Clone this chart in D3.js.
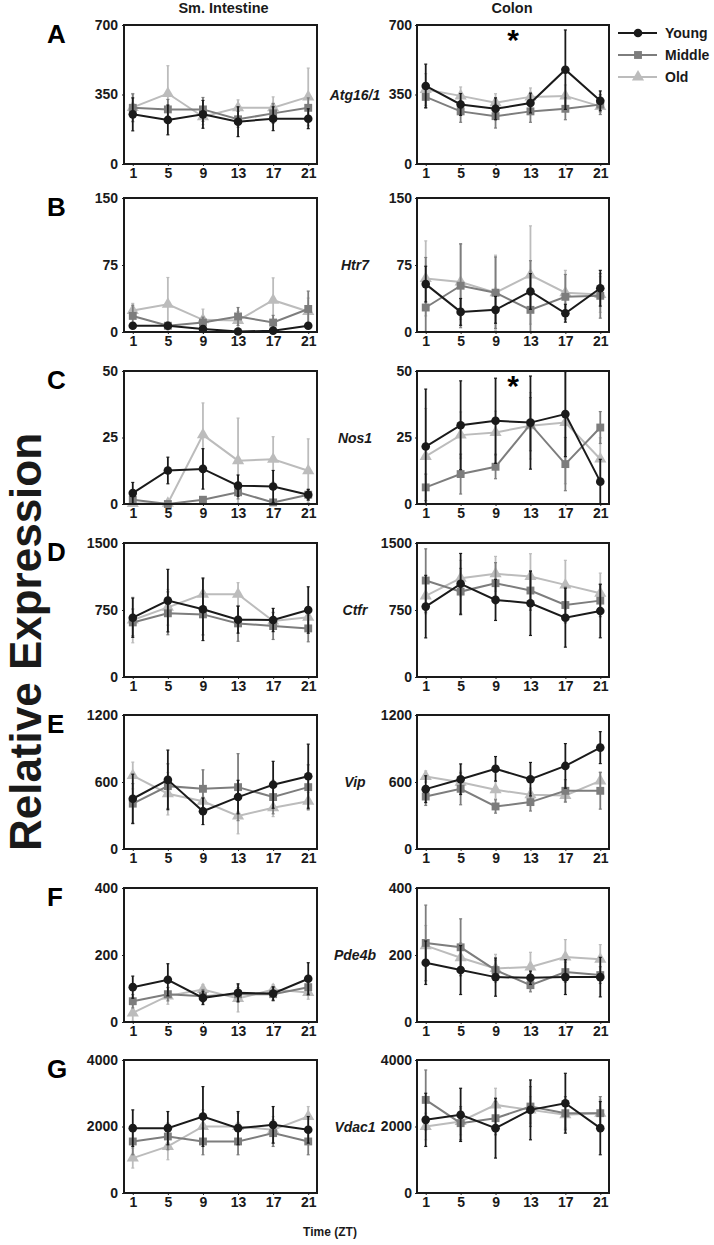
<!DOCTYPE html>
<html><head><meta charset="utf-8">
<script src="https://cdn.jsdelivr.net/npm/d3@7"></script>
<style>body{margin:0;background:#fff}svg{display:block}text{font-family:"Liberation Sans",Arial,sans-serif;font-weight:bold}</style>
</head><body>
<svg id="c" width="714" height="1245"></svg>
<script>
const timepoints = [1,5,9,13,17,21];
const panelLetters = ["A","B","C","D","E","F","G"];
const genes = ["Atg16/1","Htr7","Nos1","Ctfr","Vip","Pde4b","Vdac1"];
const yMax = [700,150,50,1500,1200,400,4000];
const yTickLabels = [[0,350,700],[0,75,150],[0,25,50],[0,750,1500],[0,600,1200],[0,200,400],[0,2000,4000]];
const tissues = ["Sm. Intestine","Colon"];
const groups = ["Young","Middle","Old"];
const colors = ["#1a1a1a","#7d7d7d","#bcbcbc"];
const starred = [["Colon","Atg16/1"],["Colon","Nos1"]];

// Small intestine
const siYoung = [[250,222,250,213,228,228],[7,7,3.4,0.5,1.5,7],[4.1,12.6,13.2,6.9,6.6,3.5],[664,855,758,641,638,750],[450,619,338,465,575,652],[104,126,72,87,85,129],[1950,1950,2300,1950,2050,1900]];
const siYoungErr = [[83,75,70,75,60,50],[3,3,3,2,2,3],[4,5,7.6,4,6,2],[220,350,350,150,130,260],[220,267,119,150,210,287],[33,48,20,27,20,48],[550,500,900,500,550,400]];
const siMiddle = [[283,275,275,225,255,283],[18,7,10.6,17.4,10.6,25.8],[1.6,0,1.6,4.4,0.6,3.5],[611,713,701,600,570,544],[406,563,539,554,465,554],[62,83,77,83,83,104],[1550,1700,1550,1550,1800,1550]];
const siMiddleErr = [[70,50,60,40,50,50],[12,4,6,10,8,20],[2,0.5,1,2.5,1,2],[150,240,230,200,150,150],[180,200,170,300,150,200],[20,20,20,20,20,20],[400,400,400,400,400,400]];
const siOld = [[285,355,238,283,283,338],[24,31,13.6,13,35.6,23],[0.2,0.3,26,16.3,16.8,12.5],[638,780,926,926,626,668],[658,495,427,296,370,427],[27,78,97,70,97,88],[1050,1400,2000,2000,1900,2300]];
const siOldErr = [[70,140,40,40,55,145],[8,30,12,10,25,15],[0.5,0.5,12,16,8.5,12],[255,200,170,130,100,100],[120,190,100,160,80,80],[25,25,15,40,15,20],[300,400,500,400,400,300]];
// Colon
const coYoung = [[393,300,278,307,475,318],[53.6,22.5,24.8,45.4,21,49],[21.6,29.6,31.3,30.6,33.8,8.4],[788,1043,863,825,664,739],[536,625,718,625,744,908],[177,155,134,132,134,134],[2200,2350,1950,2500,2700,1950]];
const coYoungErr = [[110,55,55,50,200,50],[20,15,15,20,10,20],[21.6,16.7,16,17.5,16,8.4],[350,340,230,360,330,300],[120,137,110,150,200,143],[65,73,57,20,52,59],[800,800,900,900,900,800]];
const coMiddle = [[338,265,241,265,278,299],[27.4,51.8,44,24.8,39.4,40.5],[6.25,11.25,14,30,15,28.75],[1080,956,1050,968,806,855],[470,539,381,420,521,521],[236,223,155,110,149,140],[2800,2100,2250,2600,2400,2400]];
const coMiddleErr = [[55,55,60,55,55,50],[56,47,40,55,25,25],[5,7.5,4.5,10,10,6],[355,260,230,220,200,180],[80,143,60,80,100,164],[113,85,30,20,30,25],[900,500,500,600,500,500]];
const coOld = [[375,343,309,338,343,290],[60,56,44,63.8,44,42],[17.9,25.9,26.9,29.4,30.6,16.9],[908,1106,1155,1125,1031,938],[649,598,530,485,479,610],[228,192,160,164,194,187],[2000,2150,2650,2500,2350,2400]];
const coOldErr = [[80,45,45,45,55,30],[42,42,42,55,25,20],[18,8.7,8,12.5,23,8],[200,200,195,255,275,225],[50,100,80,60,60,80],[60,45,42,44,52,44],[400,400,500,400,400,400]];

const seriesByTissue = [
  [[siYoung,siYoungErr],[siMiddle,siMiddleErr],[siOld,siOldErr]],
  [[coYoung,coYoungErr],[coMiddle,coMiddleErr],[coOld,coOldErr]]
];

const svg = d3.select("#c");
const rowTop = [25,198,371,543,715,888,1060];
const rowBot = [164,332,504,677,849,1022,1193];
const colX = [[124,317],[417,609]];

const sym = [d3.symbolCircle, d3.symbolSquare, d3.symbolTriangle];
const symSize = [58, 62, 64];

// column titles
tissues.forEach((t,c)=>{
  svg.append("text").attr("x",(colX[c][0]+colX[c][1])/2 + (c===0?3:-1)).attr("y",13)
    .attr("text-anchor","middle").attr("font-size",14.5).attr("fill","#1a1a1a").text(t);
});

genes.forEach((g,r)=>{
  svg.append("text").attr("x",47).attr("y",rowTop[r]+18).attr("font-size",26).attr("fill","#000").text(panelLetters[r]);
  svg.append("text").attr("x",355).attr("y",(rowTop[r]+rowBot[r])/2+5).attr("text-anchor","middle")
    .attr("font-size",14).attr("font-style","italic").attr("fill","#1a1a1a").text(g);

  [0,1].forEach(c=>{
    const x = d3.scaleLinear().domain([0,22]).range(colX[c]);
    const y = d3.scaleLinear().domain([0,yMax[r]]).range([rowBot[r],rowTop[r]]);
    const gp = svg.append("g");
    const ya = gp.append("g").attr("transform",`translate(${colX[c][0]},0)`)
      .call(d3.axisLeft(y).tickValues(yTickLabels[r]).tickSize(2).tickPadding(c===0?4:3).tickFormat(d3.format("d")));
    ya.select(".domain").remove();
    ya.selectAll("text").attr("font-size",14).attr("fill","#1a1a1a").attr("font-family","Liberation Sans, Arial").attr("font-weight","bold");
    ya.selectAll("line").attr("stroke","#222");
    const xa = gp.append("g").attr("transform",`translate(0,${rowBot[r]})`)
      .call(d3.axisBottom(x).tickValues(timepoints).tickSize(2).tickPadding(2));
    xa.select(".domain").remove();
    xa.selectAll("text").attr("font-size",14).attr("fill","#1a1a1a").attr("font-family","Liberation Sans, Arial").attr("font-weight","bold");
    xa.selectAll("line").attr("stroke","#222");

    [2,1,0].forEach(s=>{
      const vals = seriesByTissue[c][s][0][r];
      const errs = seriesByTissue[c][s][1][r];
      const pts = timepoints.map((t,i)=>({t, v:vals[i], e:errs[i]}));
      const sg = gp.append("g");
      pts.forEach(p=>{
        const lo = Math.max(0,p.v-p.e), hi = Math.min(yMax[r],p.v+p.e);
        sg.append("line").attr("x1",x(p.t)).attr("x2",x(p.t)).attr("y1",y(lo)).attr("y2",y(hi))
          .attr("stroke",colors[s]).attr("stroke-width",1.8);
        [lo,hi].forEach(v=>{
          sg.append("line").attr("x1",x(p.t)-1.5).attr("x2",x(p.t)+1.5).attr("y1",y(v)).attr("y2",y(v))
            .attr("stroke",colors[s]).attr("stroke-width",1.2);
        });
      });
      sg.append("path").datum(pts).attr("fill","none").attr("stroke",colors[s]).attr("stroke-width",2)
        .attr("d",d3.line().x(d=>x(d.t)).y(d=>y(d.v)));
      sg.selectAll("path.m").data(pts).join("path").attr("class","m")
        .attr("transform",d=>`translate(${x(d.t)},${y(d.v)})`)
        .attr("d",d3.symbol().type(sym[s]).size(symSize[s])).attr("fill",colors[s]);
    });
    gp.append("rect").attr("x",colX[c][0]).attr("y",rowTop[r]).attr("width",colX[c][1]-colX[c][0])
      .attr("height",rowBot[r]-rowTop[r]).attr("fill","none").attr("stroke","#1a1a1a").attr("stroke-width",2);

    starred.forEach(([tt,gg])=>{
      if(tt===tissues[c] && gg===g){
        svg.append("text").attr("x",(x(9)+x(13))/2).attr("y",rowTop[r]+25).attr("text-anchor","middle")
          .attr("font-size",30).attr("fill","#000").text("*");
      }
    });
  });
});

// legend
groups.forEach((gname,i)=>{
  const yy = 33 + i*22;
  svg.append("line").attr("x1",618).attr("x2",657).attr("y1",yy).attr("y2",yy).attr("stroke",colors[i]).attr("stroke-width",2);
  svg.append("path").attr("transform",`translate(638,${yy})`).attr("d",d3.symbol().type(sym[i]).size(symSize[i])).attr("fill",colors[i]);
  svg.append("text").attr("x",665).attr("y",yy+5).attr("font-size",14).attr("fill","#1a1a1a").text(gname);
});

// axis titles
svg.append("text").attr("transform","translate(41,642) rotate(-90)").attr("text-anchor","middle")
  .attr("font-size",44).attr("fill","#1a1a1a").text("Relative Expression");
svg.append("text").attr("x",330).attr("y",1236).attr("text-anchor","middle").attr("font-size",12).attr("fill","#1a1a1a").text("Time (ZT)");
</script>
</body></html>
